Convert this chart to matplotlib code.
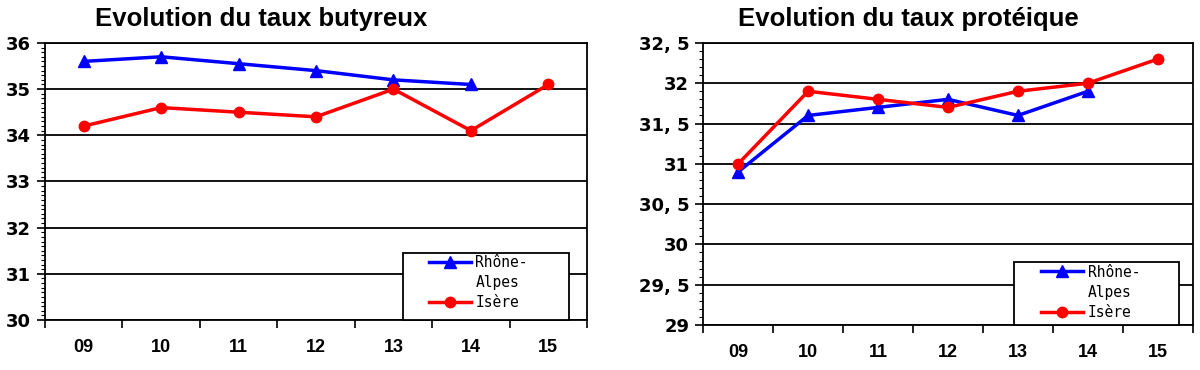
import numpy as np
import matplotlib.pyplot as plt
from matplotlib.lines import Line2D
from matplotlib.patches import Rectangle
from matplotlib.ticker import MultipleLocator, FuncFormatter

# donnees
annees = ["09", "10", "11", "12", "13", "14", "15"]

tb_rhone_alpes = [35.6, 35.7, 35.55, 35.4, 35.2, 35.1, np.nan]
tb_isere = [34.2, 34.6, 34.5, 34.4, 35.0, 34.1, 35.1]

tp_rhone_alpes = [30.9, 31.6, 31.7, 31.8, 31.6, 31.9, np.nan]
tp_isere = [31.0, 31.9, 31.8, 31.7, 31.9, 32.0, 32.3]

BLUE = "#0000ff"
RED = "#ff0000"


def virgule(v, pos):
    if abs(v - round(v)) < 1e-6:
        return "%d" % round(v)
    return ("%.1f" % v).replace(".", ", ")


def draw_panel(ax, title, title_x, ra, isere, ymin, ymax, ystep, box, anchor):
    x = np.arange(len(annees))
    l_ra, = ax.plot(x, ra, color=BLUE, lw=2.5, marker="^", ms=8)
    l_is, = ax.plot(x, isere, color=RED, lw=2.5, marker="o", ms=7.5)

    ax.set_xlim(-0.5, len(annees) - 0.5)
    ax.set_ylim(ymin, ymax)

    # graduations x entre les categories, etiquettes au centre
    ax.set_xticks(np.arange(len(annees) + 1) - 0.5)
    ax.set_xticklabels([])
    ax.set_xticks(x, minor=True)
    ax.set_xticklabels(annees, minor=True)
    ax.tick_params(axis="x", which="major", length=6, width=1.2, direction="out")
    ax.tick_params(axis="x", which="minor", length=0, pad=14)
    for lab in ax.get_xticklabels(minor=True):
        lab.set_fontweight("bold")
        lab.set_fontsize(13)
        lab.set_family("Liberation Sans")

    ax.yaxis.set_major_locator(MultipleLocator(ystep))
    ax.yaxis.set_minor_locator(MultipleLocator(0.1))
    ax.yaxis.set_major_formatter(FuncFormatter(virgule))
    ax.tick_params(axis="y", which="major", length=6, width=1.2, direction="out", pad=4)
    ax.tick_params(axis="y", which="minor", length=3, width=0.8, direction="out")
    for lab in ax.get_yticklabels():
        lab.set_fontweight("bold")
        lab.set_fontsize(13)

    ax.grid(axis="y", which="major", color="black", lw=1.3)
    ax.set_axisbelow(True)
    for s in ax.spines.values():
        s.set_color("black")
        s.set_linewidth(1.3)

    # cadre de la legende
    ax.add_patch(Rectangle((box[0], 0), box[1] - box[0], box[2],
                           transform=ax.transAxes, facecolor="white",
                           edgecolor="black", lw=1.3, zorder=4, clip_on=False))
    vide = Line2D([], [], color="none")
    leg = ax.legend([l_ra, vide, l_is], ["Rhône-", "Alpes", "Isère"],
                    loc="upper left", bbox_to_anchor=anchor, frameon=False,
                    borderaxespad=0, borderpad=0, handlelength=2.9,
                    handletextpad=0.3, labelspacing=0.35,
                    prop={"family": "DejaVu Sans Mono", "size": 10.5})
    leg.set_zorder(5)

    ax.set_title(title, fontsize=18.5, fontweight="bold", family="Liberation Sans",
                 x=title_x, pad=12)


fig = plt.figure(figsize=(12, 3.7), dpi=100)
ax1 = fig.add_axes([0.0375, 0.135, 0.4517, 0.749])
ax2 = fig.add_axes([0.586, 0.1216, 0.408, 0.7624])

draw_panel(ax1, "Evolution du taux butyreux", 0.399, tb_rhone_alpes, tb_isere,
           30, 36, 1, (0.660, 0.966, 0.242), (0.708, 0.236))
draw_panel(ax2, "Evolution du taux protéique", 0.420, tp_rhone_alpes, tp_isere,
           29, 32.5, 0.5, (0.635, 0.972, 0.223), (0.690, 0.2145))

fig.savefig("out.png", dpi=100)
